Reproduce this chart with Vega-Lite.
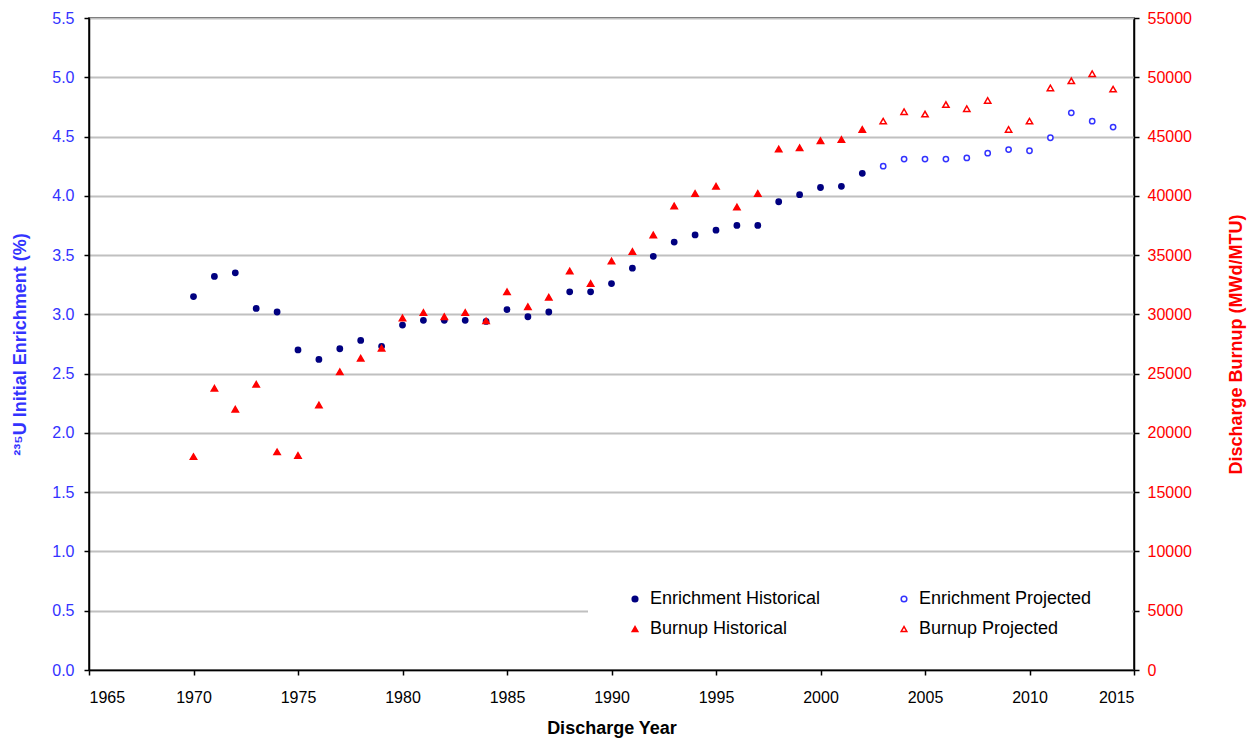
{
  "$schema": "https://vega.github.io/schema/vega-lite/v6.json",
  "autosize": "none",
  "width": 1045,
  "height": 652,
  "padding": {"left": 89, "top": 18, "right": 115, "bottom": 68},
  "background": "white",
  "config": {
    "font": "Liberation Sans",
    "view": {"stroke": "#000000", "strokeWidth": 1.5},
    "axis": {
      "labelFont": "Liberation Sans",
      "titleFont": "Liberation Sans",
      "labelFontSize": 16,
      "titleFontSize": 18,
      "titleFontWeight": "bold",
      "domainColor": "#000000",
      "domainWidth": 1.5,
      "tickColor": "#000000",
      "tickWidth": 1.5,
      "tickSize": 5
    }
  },
  "data": {
    "values": [
      {"year": 1970, "measure": "E", "series": "Enrichment Historical", "value": 3.15},
      {"year": 1971, "measure": "E", "series": "Enrichment Historical", "value": 3.32},
      {"year": 1972, "measure": "E", "series": "Enrichment Historical", "value": 3.35},
      {"year": 1973, "measure": "E", "series": "Enrichment Historical", "value": 3.05},
      {"year": 1974, "measure": "E", "series": "Enrichment Historical", "value": 3.02},
      {"year": 1975, "measure": "E", "series": "Enrichment Historical", "value": 2.70},
      {"year": 1976, "measure": "E", "series": "Enrichment Historical", "value": 2.62},
      {"year": 1977, "measure": "E", "series": "Enrichment Historical", "value": 2.71},
      {"year": 1978, "measure": "E", "series": "Enrichment Historical", "value": 2.78},
      {"year": 1979, "measure": "E", "series": "Enrichment Historical", "value": 2.73},
      {"year": 1980, "measure": "E", "series": "Enrichment Historical", "value": 2.91},
      {"year": 1981, "measure": "E", "series": "Enrichment Historical", "value": 2.95},
      {"year": 1982, "measure": "E", "series": "Enrichment Historical", "value": 2.95},
      {"year": 1983, "measure": "E", "series": "Enrichment Historical", "value": 2.95},
      {"year": 1984, "measure": "E", "series": "Enrichment Historical", "value": 2.94},
      {"year": 1985, "measure": "E", "series": "Enrichment Historical", "value": 3.04},
      {"year": 1986, "measure": "E", "series": "Enrichment Historical", "value": 2.98},
      {"year": 1987, "measure": "E", "series": "Enrichment Historical", "value": 3.02},
      {"year": 1988, "measure": "E", "series": "Enrichment Historical", "value": 3.19},
      {"year": 1989, "measure": "E", "series": "Enrichment Historical", "value": 3.19},
      {"year": 1990, "measure": "E", "series": "Enrichment Historical", "value": 3.26},
      {"year": 1991, "measure": "E", "series": "Enrichment Historical", "value": 3.39},
      {"year": 1992, "measure": "E", "series": "Enrichment Historical", "value": 3.49},
      {"year": 1993, "measure": "E", "series": "Enrichment Historical", "value": 3.61},
      {"year": 1994, "measure": "E", "series": "Enrichment Historical", "value": 3.67},
      {"year": 1995, "measure": "E", "series": "Enrichment Historical", "value": 3.71},
      {"year": 1996, "measure": "E", "series": "Enrichment Historical", "value": 3.75},
      {"year": 1997, "measure": "E", "series": "Enrichment Historical", "value": 3.75},
      {"year": 1998, "measure": "E", "series": "Enrichment Historical", "value": 3.95},
      {"year": 1999, "measure": "E", "series": "Enrichment Historical", "value": 4.01},
      {"year": 2000, "measure": "E", "series": "Enrichment Historical", "value": 4.07},
      {"year": 2001, "measure": "E", "series": "Enrichment Historical", "value": 4.08},
      {"year": 2002, "measure": "E", "series": "Enrichment Historical", "value": 4.19},
      {"year": 2003, "measure": "E", "series": "Enrichment Projected", "value": 4.25},
      {"year": 2004, "measure": "E", "series": "Enrichment Projected", "value": 4.31},
      {"year": 2005, "measure": "E", "series": "Enrichment Projected", "value": 4.31},
      {"year": 2006, "measure": "E", "series": "Enrichment Projected", "value": 4.31},
      {"year": 2007, "measure": "E", "series": "Enrichment Projected", "value": 4.32},
      {"year": 2008, "measure": "E", "series": "Enrichment Projected", "value": 4.36},
      {"year": 2009, "measure": "E", "series": "Enrichment Projected", "value": 4.39},
      {"year": 2010, "measure": "E", "series": "Enrichment Projected", "value": 4.38},
      {"year": 2011, "measure": "E", "series": "Enrichment Projected", "value": 4.49},
      {"year": 2012, "measure": "E", "series": "Enrichment Projected", "value": 4.70},
      {"year": 2013, "measure": "E", "series": "Enrichment Projected", "value": 4.63},
      {"year": 2014, "measure": "E", "series": "Enrichment Projected", "value": 4.58},
      {"year": 1970, "measure": "B", "series": "Burnup Historical", "value": 18000},
      {"year": 1971, "measure": "B", "series": "Burnup Historical", "value": 23760},
      {"year": 1972, "measure": "B", "series": "Burnup Historical", "value": 22000},
      {"year": 1973, "measure": "B", "series": "Burnup Historical", "value": 24100},
      {"year": 1974, "measure": "B", "series": "Burnup Historical", "value": 18400},
      {"year": 1975, "measure": "B", "series": "Burnup Historical", "value": 18100},
      {"year": 1976, "measure": "B", "series": "Burnup Historical", "value": 22350},
      {"year": 1977, "measure": "B", "series": "Burnup Historical", "value": 25150},
      {"year": 1978, "measure": "B", "series": "Burnup Historical", "value": 26300},
      {"year": 1979, "measure": "B", "series": "Burnup Historical", "value": 27150},
      {"year": 1980, "measure": "B", "series": "Burnup Historical", "value": 29700},
      {"year": 1981, "measure": "B", "series": "Burnup Historical", "value": 30150},
      {"year": 1982, "measure": "B", "series": "Burnup Historical", "value": 29800},
      {"year": 1983, "measure": "B", "series": "Burnup Historical", "value": 30150},
      {"year": 1984, "measure": "B", "series": "Burnup Historical", "value": 29450},
      {"year": 1985, "measure": "B", "series": "Burnup Historical", "value": 31900},
      {"year": 1986, "measure": "B", "series": "Burnup Historical", "value": 30650},
      {"year": 1987, "measure": "B", "series": "Burnup Historical", "value": 31450},
      {"year": 1988, "measure": "B", "series": "Burnup Historical", "value": 33650},
      {"year": 1989, "measure": "B", "series": "Burnup Historical", "value": 32600},
      {"year": 1990, "measure": "B", "series": "Burnup Historical", "value": 34500},
      {"year": 1991, "measure": "B", "series": "Burnup Historical", "value": 35300},
      {"year": 1992, "measure": "B", "series": "Burnup Historical", "value": 36700},
      {"year": 1993, "measure": "B", "series": "Burnup Historical", "value": 39150},
      {"year": 1994, "measure": "B", "series": "Burnup Historical", "value": 40200},
      {"year": 1995, "measure": "B", "series": "Burnup Historical", "value": 40800},
      {"year": 1996, "measure": "B", "series": "Burnup Historical", "value": 39050},
      {"year": 1997, "measure": "B", "series": "Burnup Historical", "value": 40200},
      {"year": 1998, "measure": "B", "series": "Burnup Historical", "value": 43950},
      {"year": 1999, "measure": "B", "series": "Burnup Historical", "value": 44050},
      {"year": 2000, "measure": "B", "series": "Burnup Historical", "value": 44650},
      {"year": 2001, "measure": "B", "series": "Burnup Historical", "value": 44750},
      {"year": 2002, "measure": "B", "series": "Burnup Historical", "value": 45600},
      {"year": 2003, "measure": "B", "series": "Burnup Projected", "value": 46300},
      {"year": 2004, "measure": "B", "series": "Burnup Projected", "value": 47100},
      {"year": 2005, "measure": "B", "series": "Burnup Projected", "value": 46900},
      {"year": 2006, "measure": "B", "series": "Burnup Projected", "value": 47700},
      {"year": 2007, "measure": "B", "series": "Burnup Projected", "value": 47350},
      {"year": 2008, "measure": "B", "series": "Burnup Projected", "value": 48050},
      {"year": 2009, "measure": "B", "series": "Burnup Projected", "value": 45600},
      {"year": 2010, "measure": "B", "series": "Burnup Projected", "value": 46300},
      {"year": 2011, "measure": "B", "series": "Burnup Projected", "value": 49100},
      {"year": 2012, "measure": "B", "series": "Burnup Projected", "value": 49700},
      {"year": 2013, "measure": "B", "series": "Burnup Projected", "value": 50300},
      {"year": 2014, "measure": "B", "series": "Burnup Projected", "value": 49000}
    ]
  },
  "encoding": {
    "x": {
      "field": "year",
      "type": "quantitative",
      "scale": {"domain": [1965, 2015], "nice": false, "zero": false},
      "axis": {
        "title": "Discharge Year",
        "values": [1965, 1970, 1975, 1980, 1985, 1990, 1995, 2000, 2005, 2010, 2015],
        "format": "d",
        "grid": false,
        "labelColor": "#000000",
        "titleColor": "#000000",
        "labelPadding": 14,
        "titlePadding": 14
      }
    },
    "shape": {
      "field": "series",
      "type": "nominal",
      "title": " ",
      "scale": {
        "domain": ["Enrichment Historical", "Burnup Historical", "Enrichment Projected", "Burnup Projected"],
        "range": ["circle", "triangle-up", "circle", "triangle-up"]
      },
      "legend": {
        "orient": "none",
        "legendX": 499,
        "legendY": 566,
        "columns": 2,
        "fillColor": "white",
        "padding": 6,
        "symbolOffset": 32,
        "columnPadding": 42,
        "rowPadding": 12,
        "titleOrient": "right",
        "titlePadding": 35,
        "titleFontSize": 18,
        "labelFontSize": 18,
        "labelColor": "#000000",
        "labelFont": "Liberation Sans",
        "labelOffset": 6,
        "labelLimit": 300,
        "symbolSize": 32,
        "symbolStrokeWidth": 1.5
      }
    },
    "fill": {
      "field": "series",
      "type": "nominal",
      "title": " ",
      "scale": {
        "domain": ["Enrichment Historical", "Burnup Historical", "Enrichment Projected", "Burnup Projected"],
        "range": ["#000080", "#FF0000", "#FFFFFF", "#FFFFFF"]
      },
      "legend": {
        "orient": "none",
        "legendX": 499,
        "legendY": 566,
        "columns": 2,
        "fillColor": "white",
        "padding": 6,
        "symbolOffset": 32,
        "columnPadding": 42,
        "rowPadding": 12,
        "titleOrient": "right",
        "titlePadding": 35,
        "titleFontSize": 18,
        "labelFontSize": 18,
        "labelColor": "#000000",
        "labelFont": "Liberation Sans",
        "labelOffset": 6,
        "labelLimit": 300,
        "symbolSize": 32,
        "symbolStrokeWidth": 1.5
      }
    },
    "stroke": {
      "field": "series",
      "type": "nominal",
      "title": " ",
      "scale": {
        "domain": ["Enrichment Historical", "Burnup Historical", "Enrichment Projected", "Burnup Projected"],
        "range": ["#000080", "#FF0000", "#3333FF", "#FF0000"]
      },
      "legend": {
        "orient": "none",
        "legendX": 499,
        "legendY": 566,
        "columns": 2,
        "fillColor": "white",
        "padding": 6,
        "symbolOffset": 32,
        "columnPadding": 42,
        "rowPadding": 12,
        "titleOrient": "right",
        "titlePadding": 35,
        "titleFontSize": 18,
        "labelFontSize": 18,
        "labelColor": "#000000",
        "labelFont": "Liberation Sans",
        "labelOffset": 6,
        "labelLimit": 300,
        "symbolSize": 32,
        "symbolStrokeWidth": 1.5
      }
    }
  },
  "layer": [
    {
      "transform": [{"filter": "datum.measure === 'E'"}],
      "mark": {"type": "point", "opacity": 1, "size": 28, "strokeWidth": 1.5},
      "encoding": {
        "y": {
          "field": "value",
          "type": "quantitative",
          "scale": {"domain": [0, 5.5], "nice": false},
          "axis": {
            "orient": "left",
            "title": "²³⁵U Initial Enrichment (%)",
            "values": [0, 0.5, 1, 1.5, 2, 2.5, 3, 3.5, 4, 4.5, 5, 5.5],
            "format": ".1f",
            "grid": true,
            "gridColor": "#C0C0C0",
            "gridWidth": 2,
            "labelColor": "#3333FF",
            "titleColor": "#3333FF",
            "labelPadding": 10,
            "titlePadding": 22
          }
        }
      }
    },
    {
      "transform": [{"filter": "datum.measure === 'B'"}],
      "mark": {"type": "point", "opacity": 1, "size": 40, "strokeWidth": 1.5},
      "encoding": {
        "y": {
          "field": "value",
          "type": "quantitative",
          "scale": {"domain": [0, 55000], "nice": false},
          "axis": {
            "orient": "right",
            "title": "Discharge Burnup (MWd/MTU)",
            "values": [0, 5000, 10000, 15000, 20000, 25000, 30000, 35000, 40000, 45000, 50000, 55000],
            "format": "d",
            "grid": false,
            "labelColor": "#FF0000",
            "titleColor": "#FF0000",
            "titleAngle": 270,
            "labelPadding": 8,
            "titlePadding": 54
          }
        }
      }
    }
  ],
  "resolve": {"scale": {"y": "independent"}}
}
